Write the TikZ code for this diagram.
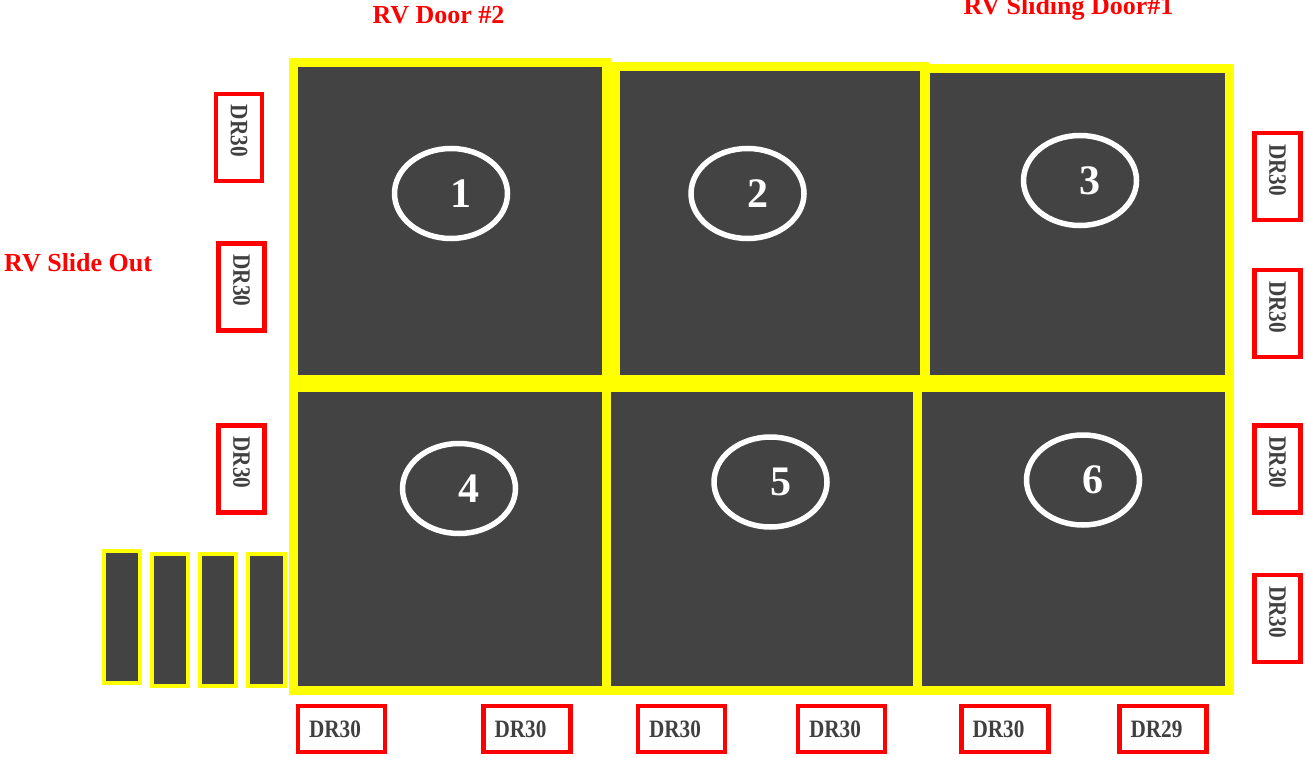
\documentclass[tikz,border=0pt]{standalone}
\usepackage{fontspec}
\setmainfont{Liberation Serif}
\usepackage{tikz}
\usetikzlibrary{shapes.geometric,positioning}
\definecolor{rvyellow}{HTML}{FFFF00}
\definecolor{rvdark}{HTML}{434343}
\definecolor{rvred}{HTML}{FF0000}
\definecolor{rvtext}{HTML}{404040}

\begin{document}
\begin{tikzpicture}[x=1pt, y=-1pt,
  bay/.style={draw=rvyellow, fill=rvdark, line width=9pt},
  slat/.style={draw=rvyellow, fill=rvdark, line width=4pt},
  zone/.style={ellipse, draw=white, line width=5.5pt, minimum width=113pt, minimum height=90pt, inner sep=0pt},
  zonenum/.style={font=\fontsize{42}{42}\selectfont\bfseries, text=white, inner sep=0pt},
  drbox/.style={draw=rvred, fill=white, line width=4.5pt, minimum height=46pt, inner xsep=11pt, inner ysep=0pt,
    text width=65pt, align=left, font=\fontsize{25}{25}\selectfont\bfseries, text=rvtext},
  title/.style={font=\fontsize{26}{26}\selectfont\bfseries, text=rvred},
]
\useasboundingbox (0,0) rectangle (1305,757);
\clip (0,0) rectangle (1305,757);

% floor bays, top row then bottom row
\draw[bay] (293.5,62.5) rectangle (606,379);
\draw[bay] (615.5,66.5) rectangle (924.5,379);
\draw[bay] (925,68.5) rectangle (1229,379);
\draw[bay] (293.5,387.5) rectangle (606,690.5);
\draw[bay] (606,387.5) rectangle (917,690.5);
\draw[bay] (917,387.5) rectangle (1229,690.5);

% slide-out strips
\foreach \x/\y/\w in {104/551/36, 152/554/36, 200/554/36, 247.5/554/37.5}
  \draw[slat] (\x,\y) rectangle ++(\w,132);

% numbered zones
\foreach \i/\x/\y in {1/451/193.5, 2/747.5/193.5, 3/1080/180.5, 4/459/488.5, 5/770.5/482, 6/1083/480} {
  \node[zone] (z\i) at (\x,\y) {};
  \node[zonenum] (n\i) at ([xshift=10pt]z\i.center) {\i};
}

% DR tags
\foreach \i/\x/\lbl in {1/341.5/DR30, 2/527/DR30, 3/681.5/DR30, 4/841.5/DR30, 5/1005/DR30, 6/1163/DR29}
  \node[drbox] (db\i) at (\x,729) {\scalebox{0.85}[1]{\lbl}};
\foreach \i/\x/\y in {1/239/137.5, 2/241.5/287, 3/241.5/469}
  \node[drbox, rotate=-90] (dl\i) at (\x,\y) {\scalebox{0.85}[1]{DR30}};
\foreach \i/\y in {1/176.5, 2/313.5, 3/469, 4/618.5}
  \node[drbox, rotate=-90] (dr\i) at (1277.5,\y) {\scalebox{0.85}[1]{DR30}};

% door labels
\node[title, anchor=base] (door2) at (438.5,24) {RV Door \#2};
\node[title, anchor=base] (door1) at (1068.5,15) {RV Sliding Door\#1};
\node[title, anchor=base west, inner sep=0pt] (slide) at (4,271) {RV Slide Out};
\end{tikzpicture}
\end{document}
